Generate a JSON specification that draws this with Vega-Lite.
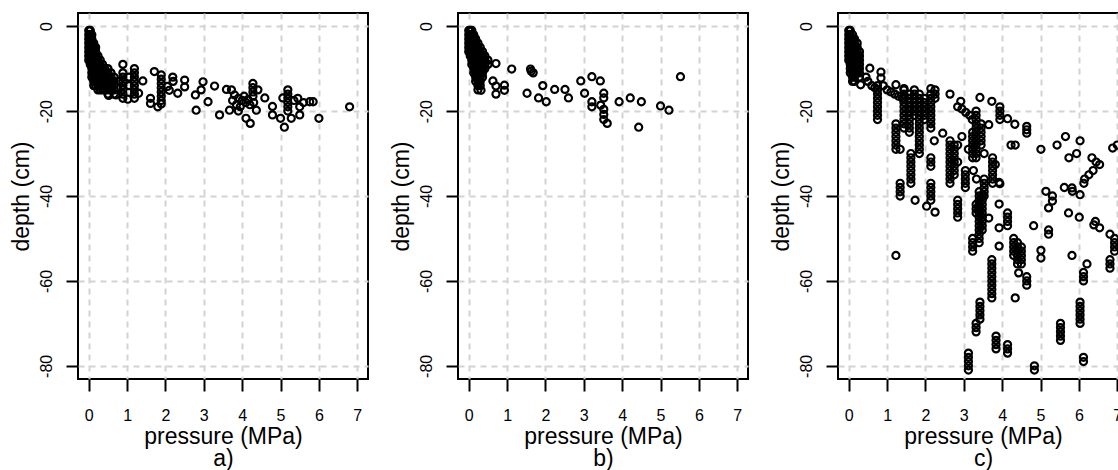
{
"$schema": "https://vega.github.io/schema/vega-lite/v6.json",
"padding": {"left": 9, "top": 12, "right": 0, "bottom": 0},
"background": "white",
"datasets": {
"a": [
{"x":0,"y":-1},{"x":0,"y":-2},{"x":0,"y":-3},{"x":0,"y":-4},{"x":0,"y":-5},{"x":0,"y":-6},{"x":0,"y":-7},{"x":0,"y":-8},
{"x":0.04,"y":-1},{"x":0.04,"y":-2},{"x":0.04,"y":-3},{"x":0.04,"y":-4},{"x":0.04,"y":-5},{"x":0.04,"y":-6},{"x":0.04,"y":-7},{"x":0.04,"y":-8},{"x":0.04,"y":-9},
{"x":0.08,"y":-2},{"x":0.08,"y":-3},{"x":0.08,"y":-4},{"x":0.08,"y":-5},{"x":0.08,"y":-6},{"x":0.08,"y":-7},{"x":0.08,"y":-8},{"x":0.08,"y":-9},{"x":0.08,"y":-10},{"x":0.08,"y":-11},{"x":0.08,"y":-12},
{"x":0.13,"y":-4},{"x":0.13,"y":-5},{"x":0.13,"y":-6},{"x":0.13,"y":-7},{"x":0.13,"y":-8},{"x":0.13,"y":-9},{"x":0.13,"y":-10},{"x":0.13,"y":-11},{"x":0.13,"y":-12},{"x":0.13,"y":-13},{"x":0.13,"y":-14},
{"x":0.18,"y":-5},{"x":0.18,"y":-6},{"x":0.18,"y":-7},{"x":0.18,"y":-8},{"x":0.18,"y":-9},{"x":0.18,"y":-10},{"x":0.18,"y":-11},{"x":0.18,"y":-12},{"x":0.18,"y":-13},{"x":0.18,"y":-14},
{"x":0.24,"y":-7},{"x":0.24,"y":-8},{"x":0.24,"y":-9},{"x":0.24,"y":-10},{"x":0.24,"y":-11},{"x":0.24,"y":-12},{"x":0.24,"y":-13},{"x":0.24,"y":-14},{"x":0.24,"y":-15},
{"x":0.3,"y":-8},{"x":0.3,"y":-9},{"x":0.3,"y":-10},{"x":0.3,"y":-11},{"x":0.3,"y":-12},{"x":0.3,"y":-13},{"x":0.3,"y":-14},{"x":0.3,"y":-15},
{"x":0.36,"y":-9},{"x":0.36,"y":-10},{"x":0.36,"y":-11},{"x":0.36,"y":-12},{"x":0.36,"y":-13},{"x":0.36,"y":-14},{"x":0.36,"y":-15},
{"x":0.42,"y":-10},{"x":0.42,"y":-11},{"x":0.42,"y":-12},{"x":0.42,"y":-13},{"x":0.42,"y":-14},{"x":0.42,"y":-15},
{"x":0.5,"y":-10},{"x":0.5,"y":-11},{"x":0.5,"y":-12},{"x":0.5,"y":-13},{"x":0.5,"y":-14},{"x":0.5,"y":-15},{"x":0.5,"y":-16},
{"x":0.58,"y":-11},{"x":0.58,"y":-12},{"x":0.58,"y":-13},{"x":0.58,"y":-14},{"x":0.58,"y":-15},
{"x":0.66,"y":-12},{"x":0.66,"y":-13},{"x":0.66,"y":-14},{"x":0.66,"y":-15},{"x":0.66,"y":-16},
{"x":0.71,"y":-16.2},{"x":0.52,"y":-16.3},{"x":0.8,"y":-13},{"x":0.75,"y":-14.5},
{"x":0.89,"y":-9},{"x":0.89,"y":-11},{"x":0.89,"y":-12},{"x":0.89,"y":-13},{"x":0.89,"y":-14},{"x":0.89,"y":-15},{"x":0.89,"y":-16},{"x":0.89,"y":-17},
{"x":1.19,"y":-10},{"x":1.19,"y":-11},{"x":1.19,"y":-12},{"x":1.19,"y":-13},{"x":1.19,"y":-14},{"x":1.19,"y":-15},{"x":1.19,"y":-16},{"x":1.19,"y":-17},
{"x":1.02,"y":-17.2},{"x":1.05,"y":-12},{"x":1.05,"y":-14},{"x":1.41,"y":-12.9},{"x":1.3,"y":-15.8},
{"x":1.61,"y":-17},{"x":1.61,"y":-18.2},{"x":1.8,"y":-19},{"x":1.71,"y":-10.7},
{"x":1.89,"y":-11.5},{"x":1.89,"y":-12.5},{"x":1.89,"y":-13.5},{"x":1.89,"y":-14.5},{"x":1.89,"y":-15.5},{"x":1.89,"y":-16.5},{"x":1.89,"y":-17.5},{"x":1.89,"y":-18.3},
{"x":2.1,"y":-15.1},{"x":2.19,"y":-12},{"x":2.2,"y":-13},{"x":2.32,"y":-15.8},{"x":2.5,"y":-12.7},{"x":2.5,"y":-14.3},{"x":2.05,"y":-14.2},
{"x":2.78,"y":-16.2},{"x":2.8,"y":-19.8},{"x":2.98,"y":-13.1},{"x":2.93,"y":-15},{"x":3.11,"y":-17.8},{"x":3.28,"y":-14.1},{"x":3.41,"y":-20.9},
{"x":3.59,"y":-14.9},{"x":3.72,"y":-15},{"x":3.67,"y":-19.8},
{"x":3.8,"y":-16.2},{"x":3.9,"y":-17},{"x":4.0,"y":-17.5},{"x":4.1,"y":-18},{"x":3.85,"y":-18.5},{"x":3.95,"y":-19},{"x":4.05,"y":-16.5},{"x":4.15,"y":-17.3},{"x":3.75,"y":-17.5},{"x":4.2,"y":-18.5},{"x":3.9,"y":-20},
{"x":4.28,"y":-13.5},{"x":4.28,"y":-14.5},{"x":4.28,"y":-15.5},{"x":4.28,"y":-16.5},
{"x":4.41,"y":-15},{"x":4.1,"y":-21.7},{"x":4.21,"y":-22.9},{"x":4.37,"y":-19.8},{"x":4.3,"y":-18},{"x":4.59,"y":-16.9},
{"x":4.79,"y":-18.9},{"x":4.79,"y":-20.9},{"x":5.0,"y":-21.7},{"x":5.1,"y":-23.8},{"x":5.06,"y":-16.9},
{"x":5.19,"y":-15},{"x":5.19,"y":-16},{"x":5.19,"y":-17},{"x":5.19,"y":-18},{"x":5.19,"y":-19},{"x":5.19,"y":-20},
{"x":5.28,"y":-21.7},{"x":5.5,"y":-20.9},{"x":5.35,"y":-17.5},{"x":5.45,"y":-17},{"x":5.6,"y":-18},{"x":5.5,"y":-19},{"x":5.76,"y":-17.8},{"x":5.85,"y":-17.8},{"x":6.0,"y":-21.7},{"x":6.8,"y":-19}
],
"b": [
{"x":0,"y":-1},{"x":0,"y":-2},{"x":0,"y":-3},{"x":0,"y":-4},{"x":0,"y":-5},{"x":0,"y":-6},
{"x":0.04,"y":-1},{"x":0.04,"y":-2},{"x":0.04,"y":-3},{"x":0.04,"y":-4},{"x":0.04,"y":-5},{"x":0.04,"y":-6},{"x":0.04,"y":-7},
{"x":0.08,"y":-1},{"x":0.08,"y":-2},{"x":0.08,"y":-3},{"x":0.08,"y":-4},{"x":0.08,"y":-5},{"x":0.08,"y":-6},{"x":0.08,"y":-7},{"x":0.08,"y":-8},{"x":0.08,"y":-9},
{"x":0.13,"y":-2},{"x":0.13,"y":-3},{"x":0.13,"y":-4},{"x":0.13,"y":-5},{"x":0.13,"y":-6},{"x":0.13,"y":-7},{"x":0.13,"y":-8},{"x":0.13,"y":-9},{"x":0.13,"y":-10},{"x":0.13,"y":-11},
{"x":0.18,"y":-3},{"x":0.18,"y":-4},{"x":0.18,"y":-5},{"x":0.18,"y":-6},{"x":0.18,"y":-7},{"x":0.18,"y":-8},{"x":0.18,"y":-9},{"x":0.18,"y":-10},{"x":0.18,"y":-11},{"x":0.18,"y":-12},{"x":0.18,"y":-13},
{"x":0.24,"y":-4},{"x":0.24,"y":-5},{"x":0.24,"y":-6},{"x":0.24,"y":-7},{"x":0.24,"y":-8},{"x":0.24,"y":-9},{"x":0.24,"y":-10},{"x":0.24,"y":-11},{"x":0.24,"y":-12},{"x":0.24,"y":-13},{"x":0.24,"y":-14},{"x":0.24,"y":-15},
{"x":0.3,"y":-5},{"x":0.3,"y":-6},{"x":0.3,"y":-7},{"x":0.3,"y":-8},{"x":0.3,"y":-9},{"x":0.3,"y":-10},{"x":0.3,"y":-11},{"x":0.3,"y":-12},{"x":0.3,"y":-13},{"x":0.3,"y":-14},
{"x":0.36,"y":-6},{"x":0.36,"y":-7},{"x":0.36,"y":-8},{"x":0.36,"y":-9},{"x":0.36,"y":-10},{"x":0.36,"y":-11},{"x":0.36,"y":-12},
{"x":0.42,"y":-7},{"x":0.42,"y":-8},{"x":0.42,"y":-9},{"x":0.42,"y":-10},
{"x":0.5,"y":-8},{"x":0.5,"y":-9},
{"x":0.71,"y":-8.8},{"x":1.12,"y":-10.1},{"x":1.61,"y":-10.1},{"x":1.63,"y":-10.6},{"x":1.68,"y":-11},{"x":0.63,"y":-12.9},{"x":0.71,"y":-14.1},{"x":0.71,"y":-16},{"x":0.93,"y":-13.9},{"x":0.93,"y":-15.1},{"x":0.32,"y":-15.1},{"x":1.52,"y":-15.8},{"x":1.93,"y":-14},{"x":1.82,"y":-16.9},{"x":2.02,"y":-17.8},{"x":2.24,"y":-14.9},{"x":2.51,"y":-14.9},{"x":2.6,"y":-16.9},{"x":2.92,"y":-12.9},{"x":3.02,"y":-15.8},{"x":3.21,"y":-11.9},{"x":3.43,"y":-12.9},{"x":3.52,"y":-15.8},{"x":3.52,"y":-16.9},{"x":3.21,"y":-17.8},{"x":3.21,"y":-19},{"x":3.44,"y":-18.6},{"x":3.52,"y":-19.6},{"x":3.52,"y":-20.8},{"x":3.52,"y":-22},{"x":3.61,"y":-22.9},{"x":3.92,"y":-17.8},{"x":4.21,"y":-16.9},{"x":4.5,"y":-17.8},{"x":4.43,"y":-23.8},{"x":5.0,"y":-18.8},{"x":5.22,"y":-19.8},{"x":5.52,"y":-11.9}
],
"c": [
{"x":0,"y":-1},{"x":0,"y":-2},{"x":0,"y":-3},{"x":0,"y":-4},{"x":0,"y":-5},{"x":0,"y":-6},{"x":0,"y":-7},{"x":0,"y":-8},
{"x":0.04,"y":-1},{"x":0.04,"y":-2},{"x":0.04,"y":-3},{"x":0.04,"y":-4},{"x":0.04,"y":-5},{"x":0.04,"y":-6},{"x":0.04,"y":-7},{"x":0.04,"y":-8},{"x":0.04,"y":-9},{"x":0.04,"y":-10},{"x":0.04,"y":-11},
{"x":0.1,"y":-2},{"x":0.1,"y":-3},{"x":0.1,"y":-4},{"x":0.1,"y":-5},{"x":0.1,"y":-6},{"x":0.1,"y":-7},{"x":0.1,"y":-8},{"x":0.1,"y":-9},{"x":0.1,"y":-10},{"x":0.1,"y":-11},{"x":0.1,"y":-12},{"x":0.1,"y":-13},
{"x":0.15,"y":-3},{"x":0.15,"y":-4},{"x":0.15,"y":-5},{"x":0.15,"y":-6},{"x":0.15,"y":-7},{"x":0.15,"y":-8},{"x":0.15,"y":-9},{"x":0.15,"y":-10},{"x":0.15,"y":-11},{"x":0.15,"y":-12},{"x":0.15,"y":-13},
{"x":0.22,"y":-4},{"x":0.22,"y":-5},{"x":0.22,"y":-6},{"x":0.22,"y":-7},{"x":0.22,"y":-8},{"x":0.22,"y":-9},{"x":0.22,"y":-10},{"x":0.22,"y":-11},
{"x":0.28,"y":-6},{"x":0.28,"y":-7},{"x":0.28,"y":-8},{"x":0.28,"y":-9},{"x":0.28,"y":-10},{"x":0.28,"y":-11},{"x":0.28,"y":-12},
{"x":0.55,"y":-9.9},{"x":0.84,"y":-10.8},{"x":0.84,"y":-12.2},{"x":0.31,"y":-13.8},{"x":0.45,"y":-12},{"x":0.5,"y":-13},{"x":0.6,"y":-14},{"x":0.68,"y":-14.5},
{"x":0.75,"y":-14},{"x":0.75,"y":-15},{"x":0.75,"y":-16},{"x":0.75,"y":-17},{"x":0.75,"y":-18},{"x":0.75,"y":-19},{"x":0.75,"y":-20},{"x":0.75,"y":-21},{"x":0.75,"y":-22},
{"x":0.9,"y":-14},{"x":1.0,"y":-15},{"x":1.1,"y":-15.5},{"x":1.2,"y":-16},{"x":1.23,"y":-13.8},{"x":1.3,"y":-16.5},{"x":1.4,"y":-17},{"x":1.44,"y":-14.7},
{"x":1.44,"y":-15},{"x":1.44,"y":-16},{"x":1.44,"y":-17},{"x":1.44,"y":-18},{"x":1.44,"y":-19},{"x":1.44,"y":-20},{"x":1.44,"y":-21},{"x":1.44,"y":-22},{"x":1.44,"y":-23},{"x":1.44,"y":-24},
{"x":1.58,"y":-16},{"x":1.58,"y":-17},{"x":1.58,"y":-18},{"x":1.58,"y":-19},{"x":1.58,"y":-20},{"x":1.58,"y":-21},{"x":1.58,"y":-22},{"x":1.58,"y":-23},{"x":1.58,"y":-24},{"x":1.58,"y":-25},
{"x":1.71,"y":-15},{"x":1.71,"y":-16},{"x":1.71,"y":-17},{"x":1.71,"y":-18},{"x":1.71,"y":-19},{"x":1.71,"y":-20},{"x":1.71,"y":-21},
{"x":1.84,"y":-16},{"x":1.84,"y":-17},{"x":1.84,"y":-18},{"x":1.84,"y":-19},{"x":1.84,"y":-20},{"x":1.84,"y":-21},{"x":1.84,"y":-22},{"x":1.84,"y":-23},{"x":1.84,"y":-24},{"x":1.84,"y":-25},{"x":1.84,"y":-26},
{"x":1.97,"y":-17},{"x":1.97,"y":-18},{"x":1.97,"y":-19},{"x":1.97,"y":-20},{"x":1.97,"y":-21},{"x":1.97,"y":-22},
{"x":2.14,"y":-14.7},{"x":2.14,"y":-16},{"x":2.14,"y":-17},{"x":2.14,"y":-18},{"x":2.14,"y":-19},{"x":2.14,"y":-20},{"x":2.14,"y":-21},{"x":2.14,"y":-22},{"x":2.14,"y":-23},{"x":2.14,"y":-24},
{"x":2.25,"y":-15},{"x":2.25,"y":-16},{"x":2.25,"y":-17},
{"x":1.23,"y":-23},{"x":1.23,"y":-24},{"x":1.23,"y":-25},{"x":1.23,"y":-26},{"x":1.23,"y":-27},{"x":1.23,"y":-28},{"x":1.23,"y":-29},{"x":1.34,"y":-29},
{"x":1.62,"y":-30},{"x":1.62,"y":-31},{"x":1.62,"y":-32},{"x":1.62,"y":-33},{"x":1.62,"y":-34},{"x":1.62,"y":-35},{"x":1.62,"y":-36},{"x":1.62,"y":-37},
{"x":1.84,"y":-27},{"x":1.84,"y":-28},{"x":1.84,"y":-29},{"x":1.84,"y":-30},
{"x":1.34,"y":-37},{"x":1.34,"y":-38},{"x":1.34,"y":-39},{"x":1.34,"y":-40},
{"x":1.73,"y":-41},{"x":1.23,"y":-54},
{"x":2.14,"y":-37},{"x":2.14,"y":-38},{"x":2.14,"y":-39},{"x":2.14,"y":-40},{"x":2.14,"y":-41},
{"x":2.03,"y":-42.4},{"x":2.25,"y":-43.8},
{"x":2.14,"y":-31},{"x":2.14,"y":-32},{"x":2.14,"y":-33},
{"x":2.23,"y":-27},{"x":2.45,"y":-25.2},
{"x":2.64,"y":-27},{"x":2.64,"y":-28},{"x":2.64,"y":-29},{"x":2.64,"y":-30},{"x":2.64,"y":-31},{"x":2.64,"y":-32},{"x":2.64,"y":-33},{"x":2.64,"y":-34},{"x":2.64,"y":-35},{"x":2.64,"y":-36},{"x":2.64,"y":-37},
{"x":2.75,"y":-28},{"x":2.75,"y":-29},{"x":2.75,"y":-30},{"x":2.75,"y":-31},{"x":2.75,"y":-32},{"x":2.75,"y":-33},{"x":2.75,"y":-34},{"x":2.75,"y":-35},
{"x":2.84,"y":-28},{"x":2.84,"y":-32},
{"x":2.64,"y":-16},{"x":2.84,"y":-19},{"x":2.92,"y":-17.7},{"x":2.95,"y":-19.5},{"x":3.05,"y":-20.3},{"x":3.15,"y":-21},{"x":3.22,"y":-22},
{"x":2.84,"y":-41},{"x":2.84,"y":-42},{"x":2.84,"y":-43},{"x":2.84,"y":-44},{"x":2.84,"y":-45},
{"x":2.95,"y":-26},
{"x":3.04,"y":-34},{"x":3.04,"y":-35},{"x":3.04,"y":-36},{"x":3.04,"y":-37},{"x":3.04,"y":-38},
{"x":3.12,"y":-29},
{"x":3.23,"y":-25},{"x":3.23,"y":-26},{"x":3.23,"y":-27},{"x":3.23,"y":-28},{"x":3.23,"y":-29},{"x":3.23,"y":-30},{"x":3.23,"y":-31},
{"x":3.32,"y":-20},{"x":3.32,"y":-21},{"x":3.32,"y":-22},{"x":3.32,"y":-23},{"x":3.32,"y":-24},{"x":3.32,"y":-25},{"x":3.32,"y":-26},{"x":3.32,"y":-27},{"x":3.32,"y":-28},{"x":3.32,"y":-29},{"x":3.32,"y":-30},{"x":3.32,"y":-31},
{"x":3.25,"y":-34},{"x":3.33,"y":-36},
{"x":3.45,"y":-23},{"x":3.45,"y":-24},{"x":3.45,"y":-25},{"x":3.45,"y":-26},{"x":3.45,"y":-27},{"x":3.45,"y":-28},
{"x":3.42,"y":-16.8},{"x":3.65,"y":-23.2},{"x":3.73,"y":-17.7},{"x":3.53,"y":-30},
{"x":3.75,"y":-31},{"x":3.75,"y":-32},{"x":3.75,"y":-33},{"x":3.75,"y":-34},{"x":3.75,"y":-35},{"x":3.75,"y":-36},{"x":3.75,"y":-37},
{"x":3.94,"y":-19},{"x":3.94,"y":-20},{"x":3.94,"y":-21},{"x":3.94,"y":-22},
{"x":3.82,"y":-32.6},{"x":3.92,"y":-36.8},{"x":4.14,"y":-21.8},{"x":4.33,"y":-23.1},
{"x":4.64,"y":-23.6},{"x":4.64,"y":-24.4},{"x":4.64,"y":-25.2},
{"x":4.23,"y":-28},{"x":4.34,"y":-28},{"x":5.01,"y":-29},{"x":5.43,"y":-28},{"x":5.65,"y":-26},{"x":5.74,"y":-31},{"x":5.94,"y":-30},{"x":6.03,"y":-27},
{"x":6.34,"y":-31},{"x":6.45,"y":-32},{"x":6.54,"y":-32.6},{"x":6.37,"y":-34},{"x":6.26,"y":-35},{"x":6.15,"y":-36},{"x":6.13,"y":-37},
{"x":6.88,"y":-28.7},{"x":7.0,"y":-28},
{"x":5.62,"y":-38},{"x":5.82,"y":-38.1},{"x":5.83,"y":-38.9},{"x":6.03,"y":-39.7},
{"x":5.14,"y":-38.9},{"x":5.31,"y":-40},{"x":5.31,"y":-41.2},{"x":5.21,"y":-42.8},
{"x":5.73,"y":-44},{"x":6.01,"y":-45},
{"x":6.43,"y":-46},{"x":6.54,"y":-47.5},{"x":6.39,"y":-46.8},{"x":6.81,"y":-49},
{"x":6.93,"y":-50},{"x":6.93,"y":-51},{"x":6.93,"y":-52},{"x":6.93,"y":-53},
{"x":6.81,"y":-55},{"x":6.81,"y":-56},{"x":6.81,"y":-57},
{"x":4.82,"y":-47},{"x":5.21,"y":-48},{"x":5.21,"y":-49},
{"x":5.01,"y":-52.8},{"x":5.01,"y":-54.6},{"x":5.82,"y":-54},{"x":6.21,"y":-56},
{"x":6.12,"y":-58},{"x":6.12,"y":-59},{"x":6.12,"y":-60},
{"x":6.03,"y":-65},{"x":6.03,"y":-66},{"x":6.03,"y":-67},{"x":6.03,"y":-68},{"x":6.03,"y":-69},{"x":6.03,"y":-70},
{"x":6.12,"y":-78},{"x":6.12,"y":-79},
{"x":5.52,"y":-70},{"x":5.52,"y":-71},{"x":5.52,"y":-72},{"x":5.52,"y":-73},{"x":5.52,"y":-74},
{"x":4.84,"y":-80},{"x":4.84,"y":-81},
{"x":3.12,"y":-77},{"x":3.12,"y":-78},{"x":3.12,"y":-79},{"x":3.12,"y":-80},{"x":3.12,"y":-81},
{"x":3.32,"y":-70},{"x":3.32,"y":-71},{"x":3.32,"y":-72},
{"x":3.42,"y":-65},{"x":3.42,"y":-66},{"x":3.42,"y":-67},{"x":3.42,"y":-68},{"x":3.42,"y":-69},
{"x":3.73,"y":-55},{"x":3.73,"y":-56},{"x":3.73,"y":-57},{"x":3.73,"y":-58},{"x":3.73,"y":-59},{"x":3.73,"y":-60},{"x":3.73,"y":-61},{"x":3.73,"y":-62},{"x":3.73,"y":-63},{"x":3.73,"y":-64},
{"x":4.34,"y":-64},
{"x":3.84,"y":-73},{"x":3.84,"y":-74},{"x":3.84,"y":-75},{"x":3.84,"y":-76},
{"x":4.14,"y":-75},{"x":4.14,"y":-76},{"x":4.14,"y":-77},
{"x":3.23,"y":-50},{"x":3.23,"y":-51},{"x":3.23,"y":-52},{"x":3.23,"y":-53},
{"x":3.4,"y":-39},{"x":3.4,"y":-40},{"x":3.4,"y":-41},{"x":3.4,"y":-42},{"x":3.4,"y":-43},{"x":3.4,"y":-44},{"x":3.4,"y":-45},{"x":3.4,"y":-46},{"x":3.4,"y":-47},{"x":3.4,"y":-48},{"x":3.4,"y":-49},{"x":3.4,"y":-50},{"x":3.4,"y":-51},
{"x":3.48,"y":-40},{"x":3.48,"y":-41},{"x":3.48,"y":-42},{"x":3.48,"y":-43},{"x":3.48,"y":-44},{"x":3.48,"y":-45},{"x":3.48,"y":-46},{"x":3.48,"y":-47},{"x":3.48,"y":-48},
{"x":3.32,"y":-42},{"x":3.32,"y":-43},{"x":3.32,"y":-44},
{"x":3.65,"y":-45.2},{"x":3.92,"y":-41.9},{"x":3.92,"y":-47.5},{"x":3.92,"y":-51.8},
{"x":4.14,"y":-44},{"x":4.14,"y":-45},{"x":4.14,"y":-46},{"x":4.14,"y":-47},
{"x":4.3,"y":-50},{"x":4.3,"y":-51},{"x":4.3,"y":-52},{"x":4.3,"y":-53},{"x":4.3,"y":-54},
{"x":4.4,"y":-51},{"x":4.4,"y":-52},{"x":4.4,"y":-53},{"x":4.4,"y":-54},{"x":4.4,"y":-55},{"x":4.4,"y":-56},
{"x":4.5,"y":-52},{"x":4.5,"y":-53},{"x":4.5,"y":-54},{"x":4.5,"y":-55},{"x":4.5,"y":-56},
{"x":4.43,"y":-58.1},
{"x":4.64,"y":-59},{"x":4.64,"y":-60},{"x":4.64,"y":-61},
{"x":3.53,"y":-36},{"x":3.53,"y":-37},{"x":3.53,"y":-38},{"x":3.53,"y":-39},{"x":3.53,"y":-40},
{"x":3.94,"y":-37.1}
]
},
"config": {
"font": "Liberation Sans",
"view": {"stroke": "#000000", "strokeWidth": 2},
"axis": {
"domain": false, "tickColor": "#000000", "tickWidth": 2, "tickSize": 12,
"labelColor": "#000000", "labelFont": "Liberation Sans", "labelFontSize": 16,
"titleFont": "Liberation Sans", "titleFontSize": 23, "titleFontWeight": "normal", "titleColor": "#000000",
"gridColor": "#d3d3d3", "gridWidth": 2, "gridDash": [6, 5],
"labelOverlap": false, "labelFlush": false, "labelBound": false
}
},
"spacing": 90,
"bounds": "flush",
"hconcat": [
{
"width": 290, "height": 366,
"data": {"name": "a"},
"mark": {"type": "point", "shape": "circle", "filled": false, "stroke": "#000000", "strokeWidth": 2.2, "size": 50, "opacity": 1},
"encoding": {
"x": {"field": "x", "type": "quantitative", "scale": {"domain": [-0.28, 7.28], "nice": false, "zero": false},
"axis": {"title": ["pressure (MPa)", "a)"], "values": [0,1,2,3,4,5,6,7], "labelExpr": "toString(datum.value)", "labelAngle": 0, "labelAlign": "center", "labelBaseline": "alphabetic", "labelPadding": 29, "titleBaseline": "alphabetic", "titleY": 64, "titleLineHeight": 22, "titleAnchor": "middle"}},
"y": {"field": "y", "type": "quantitative", "scale": {"domain": [-83.1, 3.1], "nice": false, "zero": false},
"axis": {"title": "depth (cm)", "values": [-80,-60,-40,-20,0], "labelExpr": "toString(datum.value)", "labelAngle": 270, "labelAlign": "center", "labelBaseline": "alphabetic", "labelPadding": 15, "titleAngle": 270, "titleBaseline": "alphabetic", "titleX": -50, "titleY": 183, "titleAnchor": "middle"}}
}
},
{
"width": 290, "height": 366,
"data": {"name": "b"},
"mark": {"type": "point", "shape": "circle", "filled": false, "stroke": "#000000", "strokeWidth": 2.2, "size": 50, "opacity": 1},
"encoding": {
"x": {"field": "x", "type": "quantitative", "scale": {"domain": [-0.28, 7.28], "nice": false, "zero": false},
"axis": {"title": ["pressure (MPa)", "b)"], "values": [0,1,2,3,4,5,6,7], "labelExpr": "toString(datum.value)", "labelAngle": 0, "labelAlign": "center", "labelBaseline": "alphabetic", "labelPadding": 29, "titleBaseline": "alphabetic", "titleY": 64, "titleLineHeight": 22, "titleAnchor": "middle"}},
"y": {"field": "y", "type": "quantitative", "scale": {"domain": [-83.1, 3.1], "nice": false, "zero": false},
"axis": {"title": "depth (cm)", "values": [-80,-60,-40,-20,0], "labelExpr": "toString(datum.value)", "labelAngle": 270, "labelAlign": "center", "labelBaseline": "alphabetic", "labelPadding": 15, "titleAngle": 270, "titleBaseline": "alphabetic", "titleX": -50, "titleY": 183, "titleAnchor": "middle"}}
}
},
{
"width": 290, "height": 366,
"data": {"name": "c"},
"mark": {"type": "point", "shape": "circle", "filled": false, "stroke": "#000000", "strokeWidth": 2.2, "size": 50, "opacity": 1},
"encoding": {
"x": {"field": "x", "type": "quantitative", "scale": {"domain": [-0.28, 7.28], "nice": false, "zero": false},
"axis": {"title": ["pressure (MPa)", "c)"], "values": [0,1,2,3,4,5,6,7], "labelExpr": "toString(datum.value)", "labelAngle": 0, "labelAlign": "center", "labelBaseline": "alphabetic", "labelPadding": 29, "titleBaseline": "alphabetic", "titleY": 64, "titleLineHeight": 22, "titleAnchor": "middle"}},
"y": {"field": "y", "type": "quantitative", "scale": {"domain": [-83.1, 3.1], "nice": false, "zero": false},
"axis": {"title": "depth (cm)", "values": [-80,-60,-40,-20,0], "labelExpr": "toString(datum.value)", "labelAngle": 270, "labelAlign": "center", "labelBaseline": "alphabetic", "labelPadding": 15, "titleAngle": 270, "titleBaseline": "alphabetic", "titleX": -50, "titleY": 183, "titleAnchor": "middle"}}
}
}
]
}
